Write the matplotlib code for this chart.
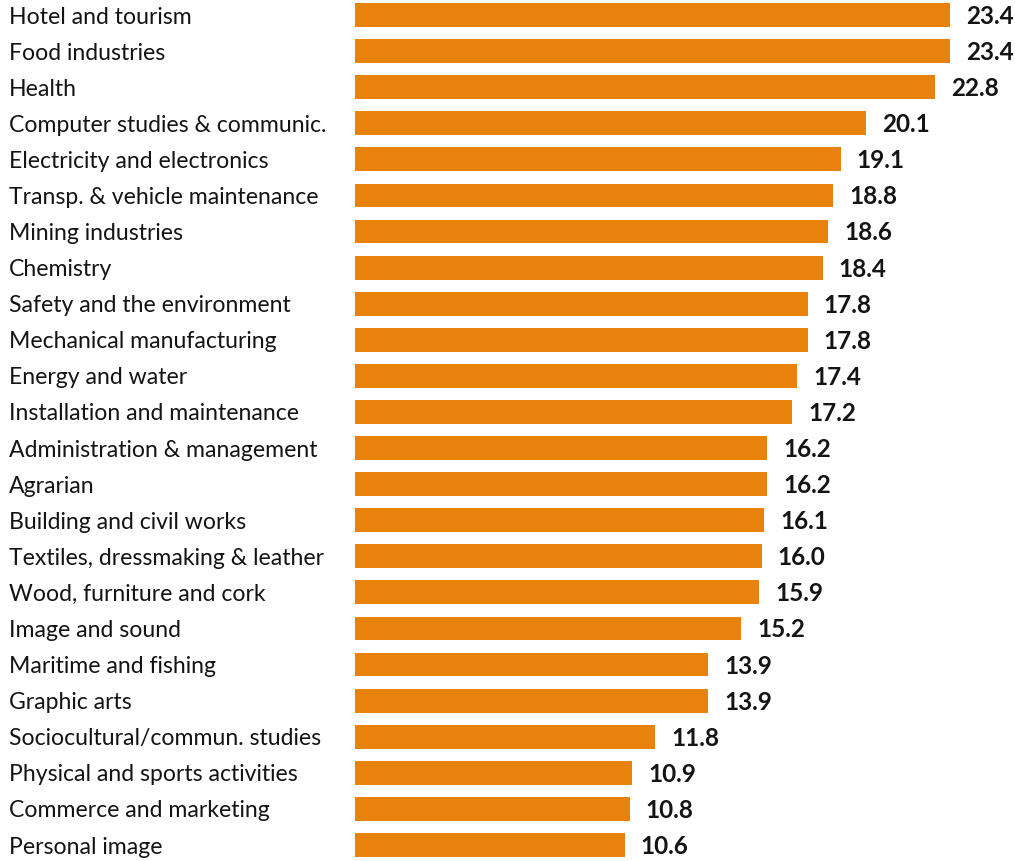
import matplotlib.pyplot as plt

categories = [
    "Hotel and tourism", "Food industries", "Health",
    "Computer studies & communic.", "Electricity and electronics",
    "Transp. & vehicle maintenance", "Mining industries", "Chemistry",
    "Safety and the environment", "Mechanical manufacturing",
    "Energy and water", "Installation and maintenance",
    "Administration & management", "Agrarian", "Building and civil works",
    "Textiles, dressmaking & leather", "Wood, furniture and cork",
    "Image and sound", "Maritime and fishing", "Graphic arts",
    "Sociocultural/commun. studies", "Physical and sports activities",
    "Commerce and marketing", "Personal image",
]
values = [23.4, 23.4, 22.8, 20.1, 19.1, 18.8, 18.6, 18.4, 17.8, 17.8,
          17.4, 17.2, 16.2, 16.2, 16.1, 16.0, 15.9, 15.2, 13.9, 13.9,
          11.8, 10.9, 10.8, 10.6]

bar_color = "#E9820C"
text_color = "#141414"

W, H = 1015, 861
fig = plt.figure(figsize=(W / 100, H / 100), dpi=100)
left_px = 355
ax = fig.add_axes([left_px / W, 0, 1 - left_px / W, 1])

px_per_unit = 595 / 23.4
row = 36.09
y = list(range(len(categories)))
ax.barh(y, values, height=0.66, color=bar_color)

ax.set_xlim(0, (W - left_px) / px_per_unit)
ax.set_ylim(23 + 16 / row, -15 / row)
ax.axis("off")

for i, (c, v) in enumerate(zip(categories, values)):
    # category label at fixed pixel x on the left
    fig.text(9 / W, 1 - (17 + i * row) / H, c, fontsize=16.6, family="Lato",
             color=text_color, va="center", ha="left")
    ax.text(v + 16 / px_per_unit, i + 0.04, f"{v:.1f}", fontsize=17.5,
            family="Lato", fontweight="bold", color=text_color,
            va="center", ha="left")

fig.savefig("out.png", dpi=100)
